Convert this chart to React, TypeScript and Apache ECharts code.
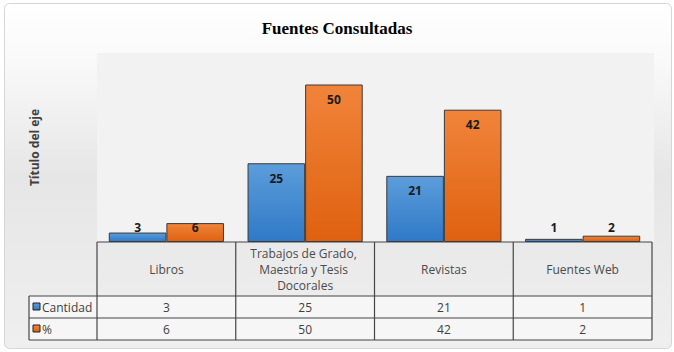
import React, { useEffect, useRef } from "react";
import * as echarts from "echarts";

const categories = ["Libros", "Trabajos de Grado, Maestría y Tesis Docorales", "Revistas", "Fuentes Web"];
const cantidad = [3, 25, 21, 1];
const porcentaje = [6, 50, 42, 2];
const seriesNames = ["Cantidad", "%"];
const chartTitle = "Fuentes Consultadas";
const yAxisTitle = "Título del eje";
const yMin = 0;
const yMax = 60;

const W = 674;
const H = 352;
const GL = 97;
const GR = 652;
const GT = 53;
const GB = 242;
const ROW0 = 296;
const ROW1 = 318;
const ROW2 = 340;
const LEG_L = 29;
const FONT = "'Open Sans', 'Noto Sans', sans-serif";
const TXT = "#404040";
const LINE = "#454545";

const blueGrad = () =>
  new echarts.graphic.LinearGradient(0, 0, 0, 1, [
    { offset: 0, color: "#5c9ddb" },
    { offset: 1, color: "#2f79c7" },
  ]);
const orangeGrad = () =>
  new echarts.graphic.LinearGradient(0, 0, 0, 1, [
    { offset: 0, color: "#f1843a" },
    { offset: 1, color: "#df610f" },
  ]);

function makeData(values: number[]) {
  return values.map((v) => ({
    value: v,
    label:
      v < 10
        ? { position: "insideBottom", distance: 9 }
        : { position: "insideTop", distance: 9 },
  }));
}

export default function App() {
  const ref = useRef<HTMLDivElement>(null);
  useEffect(() => {
    document.body.style.margin = "0";
    const chart = echarts.init(ref.current!, undefined, { renderer: "svg" });
    const n = categories.length;
    const colW = (GR - GL) / n;
    const graphics: any[] = [];
    // chart background
    graphics.push({
      type: "rect",
      shape: { x: 4.5, y: 3.5, width: 667, height: 345, r: 5 },
      style: {
        fill: new echarts.graphic.LinearGradient(0, 0, 0, 1, [
          { offset: 0, color: "#ffffff" },
          { offset: 0.15, color: "#fafafa" },
          { offset: 0.5, color: "#e6e6e6" },
          { offset: 1, color: "#efefef" },
        ]),
        stroke: "#d6d6d6",
        lineWidth: 1,
      },
    });
    // plot area
    graphics.push({
      type: "rect",
      shape: { x: GL, y: GT, width: GR + 2 - GL, height: GB - GT },
      style: { fill: "#f2f2f2" },
    });
    // data rows background
    graphics.push({
      type: "rect",
      shape: { x: LEG_L, y: ROW0, width: GR - LEG_L, height: ROW2 - ROW0 },
      style: { fill: "#f6f6f6" },
    });
    // table lines
    const hl = (x1: number, x2: number, y: number) =>
      graphics.push({ type: "line", shape: { x1, y1: y, x2, y2: y }, style: { stroke: LINE, lineWidth: 1.2 } });
    const vl = (x: number, y1: number, y2: number) =>
      graphics.push({ type: "line", shape: { x1: x, y1, x2: x, y2 }, style: { stroke: LINE, lineWidth: 1.2 } });
    hl(GL, GR, GB);
    hl(LEG_L, GR, ROW0);
    hl(LEG_L, GR, ROW1);
    hl(LEG_L, GR, ROW2);
    vl(LEG_L, ROW0, ROW2);
    for (let i = 0; i <= n; i++) vl(GL + i * colW, GB, ROW2);
    // legend keys and table values
    const rows = [
      { name: seriesNames[0], vals: cantidad, fill: blueGrad(), y0: ROW0, y1: ROW1 },
      { name: seriesNames[1], vals: porcentaje, fill: orangeGrad(), y0: ROW1, y1: ROW2 },
    ];
    rows.forEach((r) => {
      const cy = (r.y0 + r.y1) / 2;
      graphics.push({
        type: "rect",
        shape: { x: 33, y: cy - 4, width: 7, height: 7 },
        style: { fill: r.fill, stroke: "#222", lineWidth: 1 },
      });
      graphics.push({
        type: "text",
        x: 42,
        y: cy,
        style: { text: r.name, fill: TXT, font: `12px ${FONT}`, verticalAlign: "middle", align: "left" },
      });
      r.vals.forEach((v, i) => {
        graphics.push({
          type: "text",
          x: GL + (i + 0.5) * colW,
          y: cy,
          style: { text: String(v), fill: TXT, font: `12px ${FONT}`, verticalAlign: "middle", align: "center" },
        });
      });
    });

    const labelStyle = {
      show: true,
      color: "#1a1a1a",
      fontWeight: "bold",
      fontSize: 12,
      fontFamily: FONT,
    };

    chart.setOption({
      animation: false,
      title: {
        text: chartTitle,
        left: "center",
        top: 15,
        textStyle: {
          fontFamily: "'Liberation Serif', serif",
          fontWeight: "bold",
          fontSize: 17,
          color: "#000",
        },
      },
      graphic: { elements: graphics },
      grid: { left: GL, right: W - GR, top: GT, bottom: H - GB, containLabel: false },
      xAxis: {
        type: "category",
        data: categories,
        axisLine: { show: false },
        axisTick: { show: false },
        axisLabel: {
          interval: 0,
          margin: 27,
          verticalAlign: "middle",
          color: "#4a4a4a",
          fontSize: 12,
          fontFamily: FONT,
          lineHeight: 16,
          width: 128,
          overflow: "break",
        },
      },
      yAxis: {
        type: "value",
        min: yMin,
        max: yMax,
        axisLabel: { show: false },
        axisLine: { show: false },
        axisTick: { show: false },
        splitLine: { show: false },
        name: yAxisTitle,
        nameLocation: "middle",
        nameGap: 57,
        nameTextStyle: { fontWeight: "bold", fontSize: 12, color: TXT, fontFamily: FONT },
      },
      series: [
        {
          name: seriesNames[0],
          type: "bar",
          data: makeData(cantidad),
          barGap: "0%",
          barCategoryGap: "17%",
          itemStyle: { color: blueGrad(), borderColor: "#3a3a3a", borderWidth: 1 },
          label: labelStyle,
        },
        {
          name: seriesNames[1],
          type: "bar",
          data: makeData(porcentaje),
          barGap: "0%",
          barCategoryGap: "17%",
          itemStyle: { color: orangeGrad(), borderColor: "#3a3a3a", borderWidth: 1 },
          label: labelStyle,
        },
      ],
    });
    return () => chart.dispose();
  }, []);
  return <div ref={ref} style={{ position: "absolute", left: 0, top: 0, width: W, height: H }} />;
}
